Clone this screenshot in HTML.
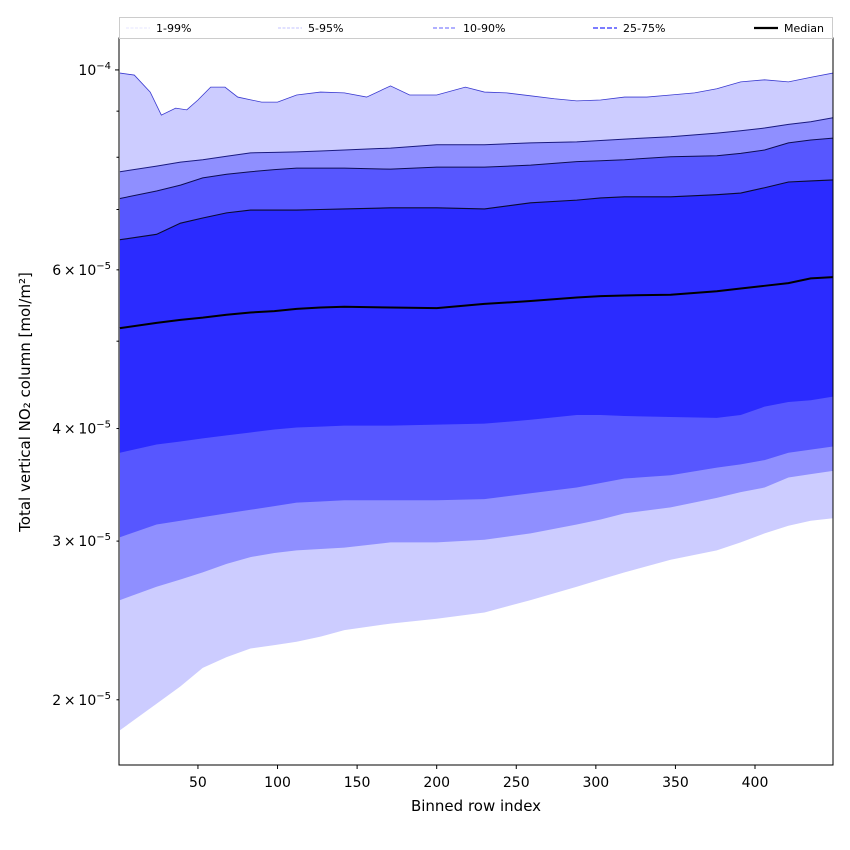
<!DOCTYPE html>
<html><head><meta charset="utf-8">
<style>
html,body{margin:0;padding:0;background:#fff;}
svg{display:block;font-family:"DejaVu Sans","Liberation Sans",sans-serif;}
</style></head>
<body>
<svg id="chart" width="850" height="850" viewBox="0 0 850 850">
  <g id="bands"></g>
  <g id="axes"></g>
  <g id="legend"></g>
</svg>
<script>
// x categories (binned row index)
const xIdx = [1,24,39,53,68,83,98,112,127,142,171,200,230,259,288,303,318,347,376,391,406,421,435,449];
const p99X = [1,10,20,27,36,43,50,58,67,75,90,100,112,127,142,156,171,183,200,218,230,244,259,274,288,303,318,332,347,362,376,391,406,421,436,449];
// values in units of 1e-5 mol/m2
const p99 = [9.92,9.87,9.45,8.91,9.07,9.03,9.26,9.57,9.57,9.33,9.21,9.21,9.38,9.45,9.43,9.33,9.60,9.38,9.38,9.57,9.45,9.43,9.36,9.29,9.24,9.26,9.33,9.33,9.38,9.43,9.53,9.70,9.75,9.70,9.82,9.92];
const p95 = [7.71,7.82,7.90,7.95,8.02,8.09,8.10,8.11,8.13,8.15,8.19,8.26,8.26,8.30,8.32,8.35,8.38,8.43,8.51,8.56,8.62,8.70,8.76,8.85];
const p90 = [7.20,7.34,7.45,7.59,7.66,7.71,7.75,7.78,7.78,7.78,7.76,7.80,7.80,7.84,7.91,7.93,7.95,8.01,8.03,8.08,8.15,8.30,8.36,8.40];
const p75 = [6.48,6.57,6.76,6.85,6.94,6.99,6.99,6.99,7.00,7.01,7.03,7.03,7.01,7.12,7.17,7.21,7.23,7.23,7.27,7.30,7.40,7.51,7.53,7.55];
const p50 = [5.17,5.24,5.28,5.31,5.35,5.38,5.40,5.43,5.45,5.46,5.45,5.44,5.50,5.54,5.59,5.61,5.62,5.63,5.68,5.72,5.76,5.80,5.87,5.89];
const p25 = [3.76,3.84,3.87,3.90,3.93,3.96,3.99,4.01,4.02,4.03,4.03,4.04,4.05,4.09,4.14,4.14,4.13,4.12,4.11,4.14,4.23,4.28,4.30,4.34];
const p10 = [3.03,3.13,3.16,3.19,3.22,3.25,3.28,3.31,3.32,3.33,3.33,3.33,3.34,3.39,3.44,3.48,3.52,3.55,3.62,3.65,3.69,3.76,3.79,3.82];
const p5  = [2.58,2.67,2.72,2.77,2.83,2.88,2.91,2.93,2.94,2.95,2.99,2.99,3.01,3.06,3.13,3.17,3.22,3.27,3.35,3.40,3.44,3.53,3.56,3.59];
const p1  = [1.85,1.98,2.07,2.17,2.23,2.28,2.30,2.32,2.35,2.39,2.43,2.46,2.50,2.58,2.67,2.72,2.77,2.86,2.93,2.99,3.06,3.12,3.16,3.18];
const xTicks = [50,100,150,200,250,300,350,400];
const yMajor = [10];
const yLabeled = [2,3,4,6];
const yLabelText = ["2","3","4","6"];
const yMinor = [2,3,4,5,6,7,8,9];

const NS = "http://www.w3.org/2000/svg";
const L = 119, R = 833, T = 38, B = 765;
const xMin = 0.4, xMax = 449;
const logTop = Math.log10(10.85), logBot = Math.log10(1.693);
function xs(v){ return L + (v - xMin) / (xMax - xMin) * (R - L); }
function ys(v){ return T + (logTop - Math.log10(v)) / (logTop - logBot) * (B - T); }
function mk(tag, attrs, parent){ const e = document.createElementNS(NS, tag); for (const k in attrs) e.setAttribute(k, attrs[k]); parent.appendChild(e); return e; }
function pts(xa, ya){ return xa.map((x,i)=>xs(x).toFixed(2)+","+ys(ya[i]).toFixed(2)); }

const bands = document.getElementById("bands");
const clip = mk("clipPath", {id:"clipArea"}, mk("defs", {}, bands));
mk("rect", {x:L, y:T, width:R-L, height:B-T}, clip);
const gb = mk("g", {"clip-path":"url(#clipArea)"}, bands);

function band(ux, uy, lx, ly, fill, name){
  const p = pts(ux, uy).concat(pts(lx, ly).reverse());
  const el = mk("polygon", {points:p.join(" "), fill:fill, stroke:"none"}, gb);
  
  
}
band(p99X, p99, xIdx, p1, "#ccccff", "band-1-99");
band(xIdx, p95, xIdx, p5, "#8f8fff", "band-5-95");
band(xIdx, p90, xIdx, p10, "#5757ff", "band-10-90");
band(xIdx, p75, xIdx, p25, "#2b2bff", "band-25-75");

function line(xa, ya, color, w, name){
  const el = mk("polyline", {points:pts(xa, ya).join(" "), fill:"none", stroke:color, "stroke-width":w}, gb);
  
  
}
line(p99X, p99, "#3a3ad0", 0.8, "line-p99");
line(xIdx, p95, "#1a1a80", 1, "line-p95");
line(xIdx, p90, "#0d0d50", 1, "line-p90");
line(xIdx, p75, "#0a0a30", 1.1, "line-p75");
line(xIdx, p50, "#000000", 2, "median-line");

// axes
const ax = document.getElementById("axes");
const frame = mk("rect", {x:L, y:T, width:R-L, height:B-T, fill:"none", stroke:"#000", "stroke-width":1}, ax);


xTicks.forEach(t=>{
  const x = xs(t);
  mk("line", {x1:x, x2:x, y1:B, y2:B+4, stroke:"#000"}, ax);
  const tx = mk("text", {x:x, y:B+22, "text-anchor":"middle", "font-size":14, fill:"#000"}, ax);
  tx.textContent = t;
  
  
});
yMinor.forEach(t=>{ const y = ys(t); mk("line", {x1:L-2.5, x2:L, y1:y, y2:y, stroke:"#000"}, ax); });
yMajor.forEach(t=>{
  const y = ys(t);
  mk("line", {x1:L-4, x2:L, y1:y, y2:y, stroke:"#000"}, ax);
  const tx = mk("text", {x:L-8, y:y+5, "text-anchor":"end", "font-size":14, fill:"#000"}, ax);
  tx.innerHTML = '10<tspan dy="-6" font-size="10">−4</tspan>';
  
  
});
yLabeled.forEach((t,i)=>{
  const y = ys(t);
  const tx = mk("text", {x:L-8, y:y+5, "text-anchor":"end", "font-size":14, fill:"#000"}, ax);
  tx.innerHTML = yLabelText[i] + '\u2009×\u200910<tspan dy="-6" font-size="10">−5</tspan>';
  
  
});
const xt = mk("text", {x:(L+R)/2, y:811, "text-anchor":"middle", "font-size":15, fill:"#000"}, ax);
xt.textContent = "Binned row index";


const yt = mk("text", {x:0, y:0, "text-anchor":"middle", "font-size":15, fill:"#000", transform:"translate(30,402) rotate(-90)"}, ax);
yt.textContent = "Total vertical NO₂ column [mol/m²]";



// legend
const lg = document.getElementById("legend");
const box = mk("rect", {x:119.5, y:17.5, width:713, height:21, fill:"#fff", stroke:"#ccc", "stroke-width":1}, lg);


const legNames = ["1-99%","5-95%","10-90%","25-75%","Median"];
const legX = [126,278,433,593,754];
const legColor = ["#ddddff","#b0b0ff","#8080ff","#5050ff","#000000"];
const legW = [0.8,0.8,1.2,1.6,2.2];
const legDash = ["3,1.5","3,1.5","4,2","5,2","none"];
legNames.forEach((n,i)=>{
  const g = mk("g", {}, lg);
  
  
  mk("line", {x1:legX[i], x2:legX[i]+24, y1:28, y2:28, stroke:legColor[i], "stroke-width":legW[i], "stroke-dasharray":legDash[i]}, g);
  const t = mk("text", {x:legX[i]+30, y:32, "font-size":11, fill:"#000"}, g);
  t.textContent = n;
});
</script>
</body></html>
